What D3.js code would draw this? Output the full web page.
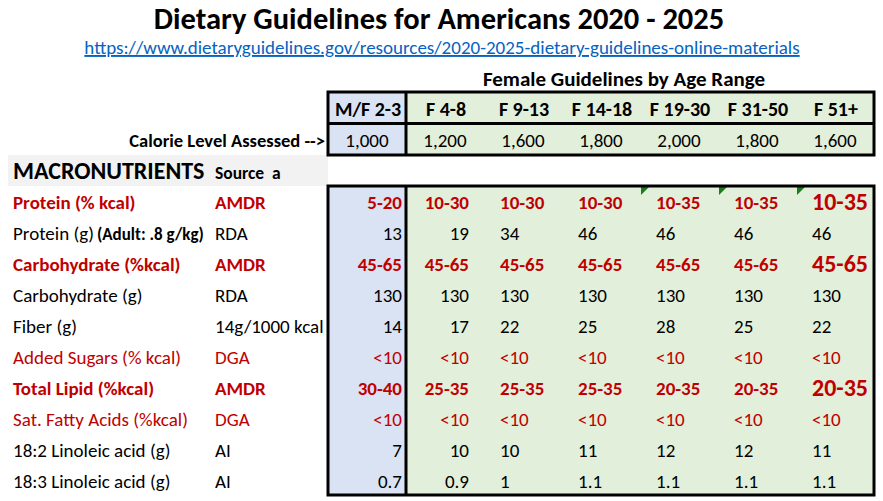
<!DOCTYPE html>
<html><head><meta charset="utf-8">
<script src="https://cdn.jsdelivr.net/npm/d3@7"></script>
<style>
html,body{margin:0;padding:0;background:#fff;}
svg{display:block;}
text{font-family:Carlito,Calibri,Lato,"Liberation Sans",sans-serif;}
</style></head>
<body>
<script>
const title = "Dietary Guidelines for Americans 2020 - 2025";
const linkText = "https://www.dietaryguidelines.gov/resources/2020-2025-dietary-guidelines-online-materials";
const groupTitle = "Female Guidelines by Age Range";
const ageGroups = ["M/F 2-3","F 4-8","F 9-13","F 14-18","F 19-30","F 31-50","F 51+"];
const calories = ["1,000","1,200","1,600","1,800","2,000","1,800","1,600"];
const nutrients = ["Protein (% kcal)","Protein (g)","Carbohydrate (%kcal)","Carbohydrate (g)","Fiber (g)","Added Sugars (% kcal)","Total Lipid (%kcal)","Sat. Fatty Acids (%kcal)","18:2 Linoleic acid (g)","18:3 Linoleic acid (g)"];
const notes = ["","(Adult: .8 g/kg)","","","","","","","",""];
const sources = ["AMDR","RDA","AMDR","RDA","14g/1000 kcal","DGA","AMDR","DGA","AI","AI"];
const values = [
  ["5-20","10-30","10-30","10-30","10-35","10-35","10-35"],
  ["13","19","34","46","46","46","46"],
  ["45-65","45-65","45-65","45-65","45-65","45-65","45-65"],
  ["130","130","130","130","130","130","130"],
  ["14","17","22","25","28","25","22"],
  ["<10","<10","<10","<10","<10","<10","<10"],
  ["30-40","25-35","25-35","25-35","20-35","20-35","20-35"],
  ["<10","<10","<10","<10","<10","<10","<10"],
  ["7","10","10","11","12","12","11"],
  ["0.7","0.9","1","1.1","1.1","1.1","1.1"]
];
const commentCells = ["F 19-30","F 31-50","F 51+"];

const W = 883, H = 501;
const RED = "#c00000", BLUE_FILL = "#dae3f3", GREEN_FILL = "#e2efda";
const svg = d3.select("body").append("svg").attr("width", W).attr("height", H);

const x = d3.scaleBand().domain(ageGroups).range([328, 874]);
const yHead = d3.scaleBand().domain(["head","cal"]).range([92, 155]);
const y = d3.scaleBand().domain(nutrients).range([186, 495]);

// title & link
svg.append("text").attr("x", 439).attr("y", 29).attr("text-anchor","middle")
  .attr("font-size", 30.5).attr("font-weight","bold").attr("fill","#000").text(title);
svg.append("text").attr("x", 442).attr("y", 54).attr("text-anchor","middle")
  .attr("font-size", 19).attr("fill","#0563c1").attr("text-decoration","underline").text(linkText);
svg.append("text").attr("x", 624).attr("y", 86).attr("text-anchor","middle")
  .attr("font-size", 21).attr("font-weight","bold").text(groupTitle);

// header fills
["head","cal"].forEach(r => {
  svg.selectAll(null).data(ageGroups).enter().append("rect")
    .attr("x", d => x(d)).attr("y", yHead(r)).attr("width", x.bandwidth()).attr("height", yHead.bandwidth())
    .attr("fill", (d,i) => i === 0 ? BLUE_FILL : GREEN_FILL);
});
svg.selectAll(null).data(ageGroups).enter().append("text")
  .attr("x", d => x(d) + x.bandwidth()/2 + 1).attr("y", yHead("head") + yHead.bandwidth()/2 + 8)
  .attr("text-anchor","middle").attr("font-size", 20).attr("font-weight","bold").text(d => d);
svg.selectAll(null).data(calories).enter().append("text")
  .attr("x", (d,i) => x(ageGroups[i]) + x.bandwidth()/2).attr("y", yHead("cal") + yHead.bandwidth()/2 + 8)
  .attr("text-anchor","middle").attr("font-size", 19).attr("fill","#000").text(d => d);
svg.append("text").attr("x", 325).attr("y", yHead("cal") + yHead.bandwidth()/2 + 8)
  .attr("text-anchor","end").attr("font-size", 18.5).attr("font-weight","bold").text("Calorie Level Assessed -->");

// macronutrients band
svg.append("rect").attr("x", 8).attr("y", 155).attr("width", 320).attr("height", 31).attr("fill","#f2f2f2");
const mt = svg.append("text").attr("x", 13).attr("y", 179).attr("font-weight","bold");
mt.append("tspan").attr("font-size", 24).text("MACRONUTRIENTS");
mt.append("tspan").attr("font-size", 17.5).attr("x", 215).text("Source\u00a0\u00a0a");

// data fills
svg.append("rect").attr("x", x(ageGroups[0])).attr("y", 186).attr("width", x.bandwidth()).attr("height", 309).attr("fill", BLUE_FILL);
svg.append("rect").attr("x", x(ageGroups[1])).attr("y", 186).attr("width", 874 - x(ageGroups[1])).attr("height", 309).attr("fill", GREEN_FILL);

// comment indicators
svg.selectAll(null).data(commentCells).enter().append("path")
  .attr("d", d => { const x0 = x(d) + 1, y0 = 186; return `M${x0},${y0}L${x0+9},${y0}L${x0},${y0+9}Z`; })
  .attr("fill", "#1e7a1e");

const isBold = s => s === "AMDR";
const isRed = s => s === "AMDR" || s === "DGA";

// row labels
nutrients.forEach((n, i) => {
  const s = sources[i];
  const yy = y(n) + y.bandwidth()/2 + 8;
  const t = svg.append("text").attr("x", 13).attr("y", yy).attr("font-size", 19)
    .attr("fill", isRed(s) ? RED : "#000").attr("font-weight", isBold(s) ? "bold" : "normal");
  t.append("tspan").text(n);
  if (notes[i]) t.append("tspan").attr("font-size", 17).attr("font-weight","bold").attr("x", 97).text(notes[i]);
  svg.append("text").attr("x", 215).attr("y", yy).attr("font-size", 19)
    .attr("fill", isRed(s) ? RED : "#000").attr("font-weight", isBold(s) ? "bold" : "normal").text(s);
  values[i].forEach((v, j) => {
    const g = ageGroups[j];
    let xx, anchor;
    if (j === 0) { xx = x(g) + x.bandwidth() - 4; anchor = "end"; }
    else if (j === 1) { xx = x(g) + 63; anchor = "end"; }
    else { xx = x(g) + 16; anchor = "start"; }
    const big = isBold(s) && j === ageGroups.length - 1;
    svg.append("text").attr("x", xx).attr("y", yy + (big ? 1 : 0)).attr("text-anchor", anchor)
      .attr("font-size", big ? 24 : 19)
      .attr("fill", isRed(s) ? RED : "#000").attr("font-weight", isBold(s) ? "bold" : "normal").text(v);
  });
});

// borders
const bw = 3;
function box(x0, y0, x1, y1) {
  svg.append("rect").attr("x", x0).attr("y", y0).attr("width", x1 - x0).attr("height", y1 - y0)
    .attr("fill","none").attr("stroke","#000").attr("stroke-width", bw);
}
box(328, 92, 874, 155);
svg.append("line").attr("x1", 328).attr("x2", 874).attr("y1", yHead("cal")).attr("y2", yHead("cal")).attr("stroke","#000").attr("stroke-width", bw);
svg.append("line").attr("x1", x(ageGroups[1])).attr("x2", x(ageGroups[1])).attr("y1", 92).attr("y2", 155).attr("stroke","#000").attr("stroke-width", bw);
box(328, 186, 874, 495);
svg.append("line").attr("x1", x(ageGroups[1])).attr("x2", x(ageGroups[1])).attr("y1", 186).attr("y2", 495).attr("stroke","#000").attr("stroke-width", bw);
</script>
</body></html>
